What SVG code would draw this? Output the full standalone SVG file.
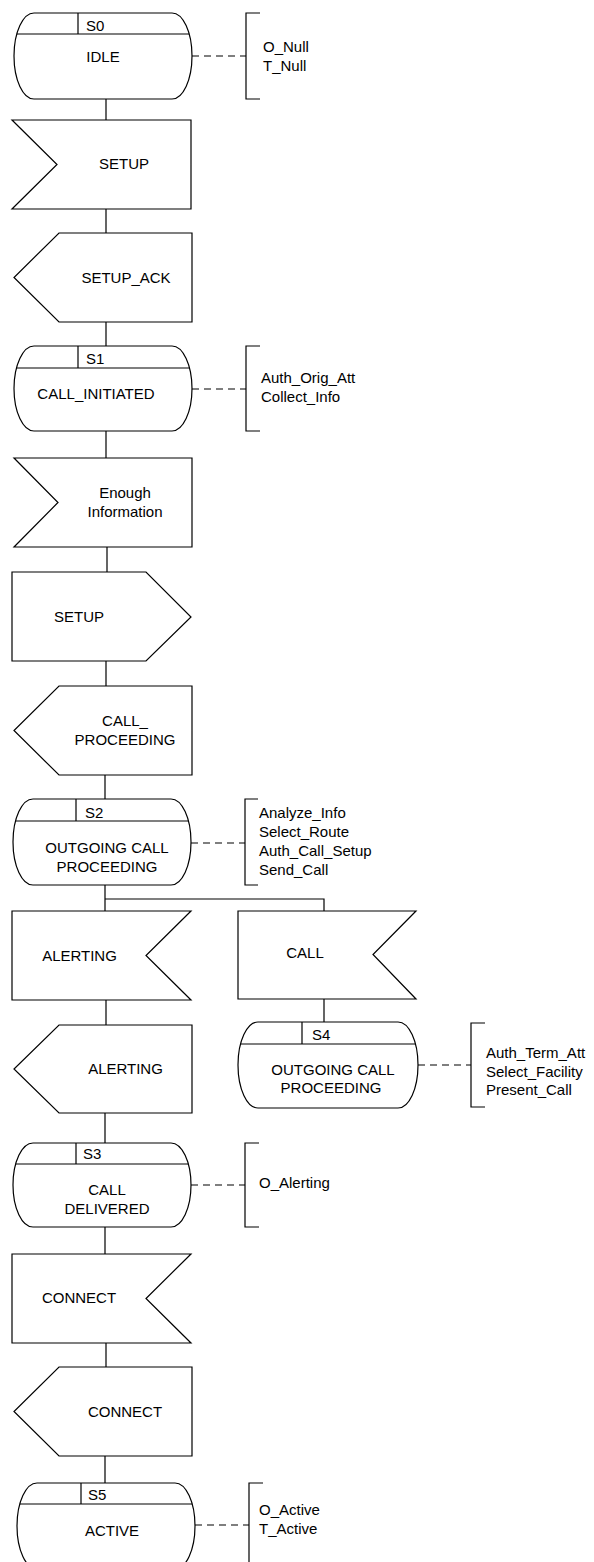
<svg xmlns="http://www.w3.org/2000/svg" width="594" height="1562" viewBox="0 0 594 1562">
<style>
.s{fill:#fff;stroke:#000;stroke-width:1.2}
.l{fill:none;stroke:#000;stroke-width:1.2}
.d{fill:none;stroke:#000;stroke-width:1.2;stroke-dasharray:7 5}
text{font-family:"Liberation Sans",Arial,sans-serif;font-size:15px;fill:#000}
.c{text-anchor:middle}
</style>
<rect width="594" height="1562" fill="#fff"/>
<g id="connectors">
<path class="l" d="M106,99V120M106,209V233M106,322V346M106,431V458M107,547V572M106,661V686M105,775V799M105,885V911M105,899H324V911M324,999V1022M106,1000V1025M105,1113V1143M105,1227V1254M106,1343V1367M105,1456V1483"/>
<path class="d" d="M192,56H246M192,389H246M191,843H245M191,1185H245M418,1065H471M195,1525H249"/>
</g>
<g id="S0">
<rect class="s" x="14" y="13" width="178" height="86" rx="20" ry="43"/>
<path class="l" d="M16.8,34H189.2M78,13V34"/>
<text x="86" y="31">S0</text>
<text class="c" x="103" y="62">IDLE</text>
</g>
<g id="S0-note">
<path class="l" d="M260,13H246V99H260"/>
<text x="263" y="51.5">O_Null</text>
<text x="263" y="70.5">T_Null</text>
</g>
<g id="in-setup">
<polygon class="s" points="12,120 191,120 191,209 12,209 57,164.5"/>
<text class="c" x="124" y="169">SETUP</text>
</g>
<g id="out-setup-ack">
<polygon class="s" points="59,233 192,233 192,322 59,322 14,277.5"/>
<text class="c" x="126" y="283">SETUP_ACK</text>
</g>
<g id="S1">
<rect class="s" x="14" y="346" width="178" height="85" rx="20" ry="42.5"/>
<path class="l" d="M16.5,368H189.5M78,346V368"/>
<text x="86" y="364">S1</text>
<text class="c" x="96" y="399">CALL_INITIATED</text>
</g>
<g id="S1-note">
<path class="l" d="M260,346H246V431H260"/>
<text x="261" y="383">Auth_Orig_Att</text>
<text x="261" y="402">Collect_Info</text>
</g>
<g id="in-enough">
<polygon class="s" points="14,458 192,458 192,547 14,547 58,502.5"/>
<text class="c" x="125" y="498">Enough</text>
<text class="c" x="125" y="517">Information</text>
</g>
<g id="out-setup">
<polygon class="s" points="12,572 146,572 191,617 146,661 12,661"/>
<text class="c" x="79" y="622">SETUP</text>
</g>
<g id="out-call-proceeding">
<polygon class="s" points="59,686 192,686 192,775 59,775 14,730.5"/>
<text class="c" x="125" y="726">CALL_</text>
<text class="c" x="125" y="745">PROCEEDING</text>
</g>
<g id="S2">
<rect class="s" x="13" y="799" width="178" height="86" rx="20" ry="43"/>
<path class="l" d="M15.6,821H188.4M76,799V821"/>
<text x="85" y="818">S2</text>
<text class="c" x="107" y="853">OUTGOING CALL</text>
<text class="c" x="107" y="872">PROCEEDING</text>
</g>
<g id="S2-note">
<path class="l" d="M258,799H245V885H258"/>
<text x="259" y="818">Analyze_Info</text>
<text x="259" y="837">Select_Route</text>
<text x="259" y="856">Auth_Call_Setup</text>
<text x="259" y="875">Send_Call</text>
</g>
<g id="in-alerting">
<polygon class="s" points="12,911 191,911 146,955.5 191,1000 12,1000"/>
<text class="c" x="79.5" y="961">ALERTING</text>
</g>
<g id="in-call">
<polygon class="s" points="238,911 416,911 373,954.5 416,999 238,999"/>
<text class="c" x="305" y="958">CALL</text>
</g>
<g id="S4">
<rect class="s" x="238" y="1022" width="180" height="86" rx="20" ry="43"/>
<path class="l" d="M240.6,1044H415.4M302,1022V1044"/>
<text x="312" y="1040">S4</text>
<text class="c" x="333" y="1075">OUTGOING CALL</text>
<text class="c" x="331" y="1093">PROCEEDING</text>
</g>
<g id="S4-note">
<path class="l" d="M485,1023H471V1107H485"/>
<text x="486" y="1058">Auth_Term_Att</text>
<text x="486" y="1076.5">Select_Facility</text>
<text x="486" y="1095">Present_Call</text>
</g>
<g id="out-alerting">
<polygon class="s" points="59,1025 192,1025 192,1113 59,1113 14,1069"/>
<text class="c" x="125.5" y="1074">ALERTING</text>
</g>
<g id="S3">
<rect class="s" x="13" y="1143" width="178" height="84" rx="20" ry="42"/>
<path class="l" d="M15.7,1164H188.3M76,1143V1164"/>
<text x="83" y="1159">S3</text>
<text class="c" x="107" y="1195">CALL</text>
<text class="c" x="107" y="1214">DELIVERED</text>
</g>
<g id="S3-note">
<path class="l" d="M259,1143H245V1227H259"/>
<text x="259" y="1188">O_Alerting</text>
</g>
<g id="in-connect">
<polygon class="s" points="12,1254 191,1254 146,1298.5 191,1343 12,1343"/>
<text class="c" x="79" y="1303">CONNECT</text>
</g>
<g id="out-connect">
<polygon class="s" points="59,1367 192,1367 192,1456 59,1456 14,1411.5"/>
<text class="c" x="125" y="1417">CONNECT</text>
</g>
<g id="S5">
<rect class="s" x="17" y="1483" width="178" height="86" rx="20" ry="43"/>
<path class="l" d="M19.8,1504H192.2M81,1483V1504"/>
<text x="88" y="1500">S5</text>
<text class="c" x="112" y="1536">ACTIVE</text>
</g>
<g id="S5-note">
<path class="l" d="M263,1483H249V1570"/>
<text x="259" y="1515">O_Active</text>
<text x="259" y="1534">T_Active</text>
</g>
</svg>
